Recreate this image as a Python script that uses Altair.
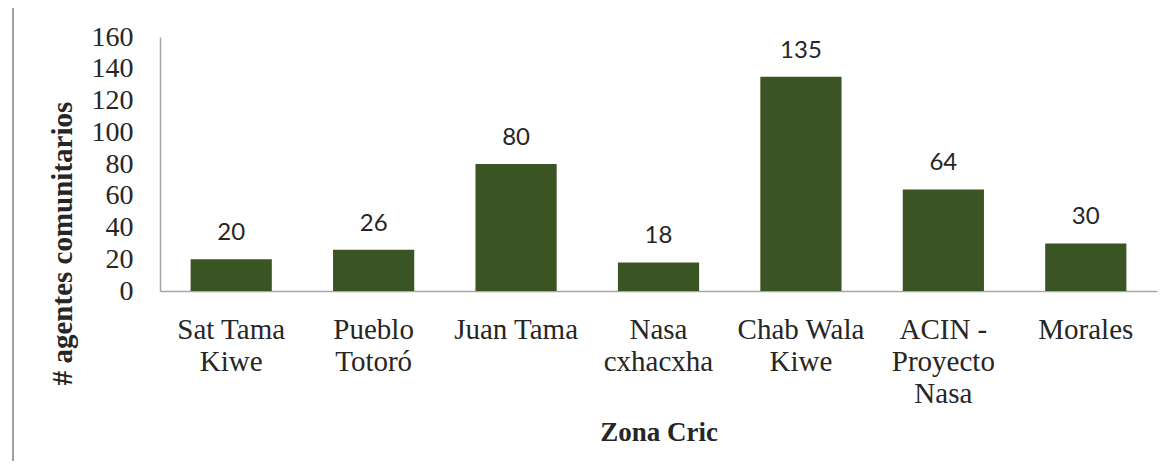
import altair as alt
import pandas as pd

zonas = ["Sat Tama|Kiwe", "Pueblo|Totoró", "Juan Tama", "Nasa|cxhacxha",
         "Chab Wala|Kiwe", "ACIN -|Proyecto|Nasa", "Morales"]
agentes = [20, 26, 80, 18, 135, 64, 30]
y_ticks = [0, 20, 40, 60, 80, 100, 120, 140, 160]

df = pd.DataFrame({"zona": zonas, "agentes": agentes})

SERIF = "Liberation Serif"
BAR = "#3A5424"
AXIS_GREY = "#a6a6a6"
TXT = "#262626"

x_enc = alt.X(
    "zona:N", sort=None,
    scale=alt.Scale(paddingInner=0.43, paddingOuter=0.215),
    axis=alt.Axis(
        title="Zona Cric", labelAngle=0, ticks=False,
        labelExpr="split(datum.label, '|')",
        labelFont=SERIF, labelFontSize=29, labelColor=TXT,
        labelLineHeight=32, labelPadding=24, labelBaseline="top",
        labelOverlap=False,
        titleFont=SERIF, titleFontSize=27, titleFontWeight="bold",
        titleColor=TXT, titleY=149, titleBaseline="alphabetic",
        domainColor=AXIS_GREY, domainWidth=1.5,
    ),
)
y_enc = alt.Y(
    "agentes:Q",
    scale=alt.Scale(domain=[0, 160], nice=False),
    axis=alt.Axis(
        title="# agentes comunitarios", values=y_ticks, grid=False, ticks=False,
        labelFont=SERIF, labelFontSize=28, labelColor=TXT, labelPadding=27,
        labelOverlap=False, labelBound=False, labelFlush=False,
        titleFont=SERIF, titleFontSize=29, titleFontWeight="bold",
        titleColor=TXT, titleX=-98, titleY=206, titleAngle=270,
        titleAlign="center", titleBaseline="middle",
        domainColor=AXIS_GREY, domainWidth=1.5,
    ),
)

bars = alt.Chart(df).mark_bar(color=BAR).encode(x=x_enc, y=y_enc)
labels = alt.Chart(df).mark_text(
    font="Lato", fontSize=24, color=TXT, baseline="alphabetic", dy=-19
).encode(x=x_enc, y=y_enc, text="agentes:Q")

border = alt.Chart(df).mark_rule(color="#a0a0a0", strokeWidth=2).encode(
    x=alt.value(-147), y=alt.value(-37), y2=alt.value(438)
)

chart = alt.layer(bars, labels, border).properties(
    width=997, height=254,
    background="white",
    autosize=alt.AutoSizeParams(type="none"),
    padding={"left": 152, "top": 29, "right": 2, "bottom": 170},
).configure_view(stroke=None)

chart.save("out.html", embed_options={"renderer": "svg", "actions": False})
